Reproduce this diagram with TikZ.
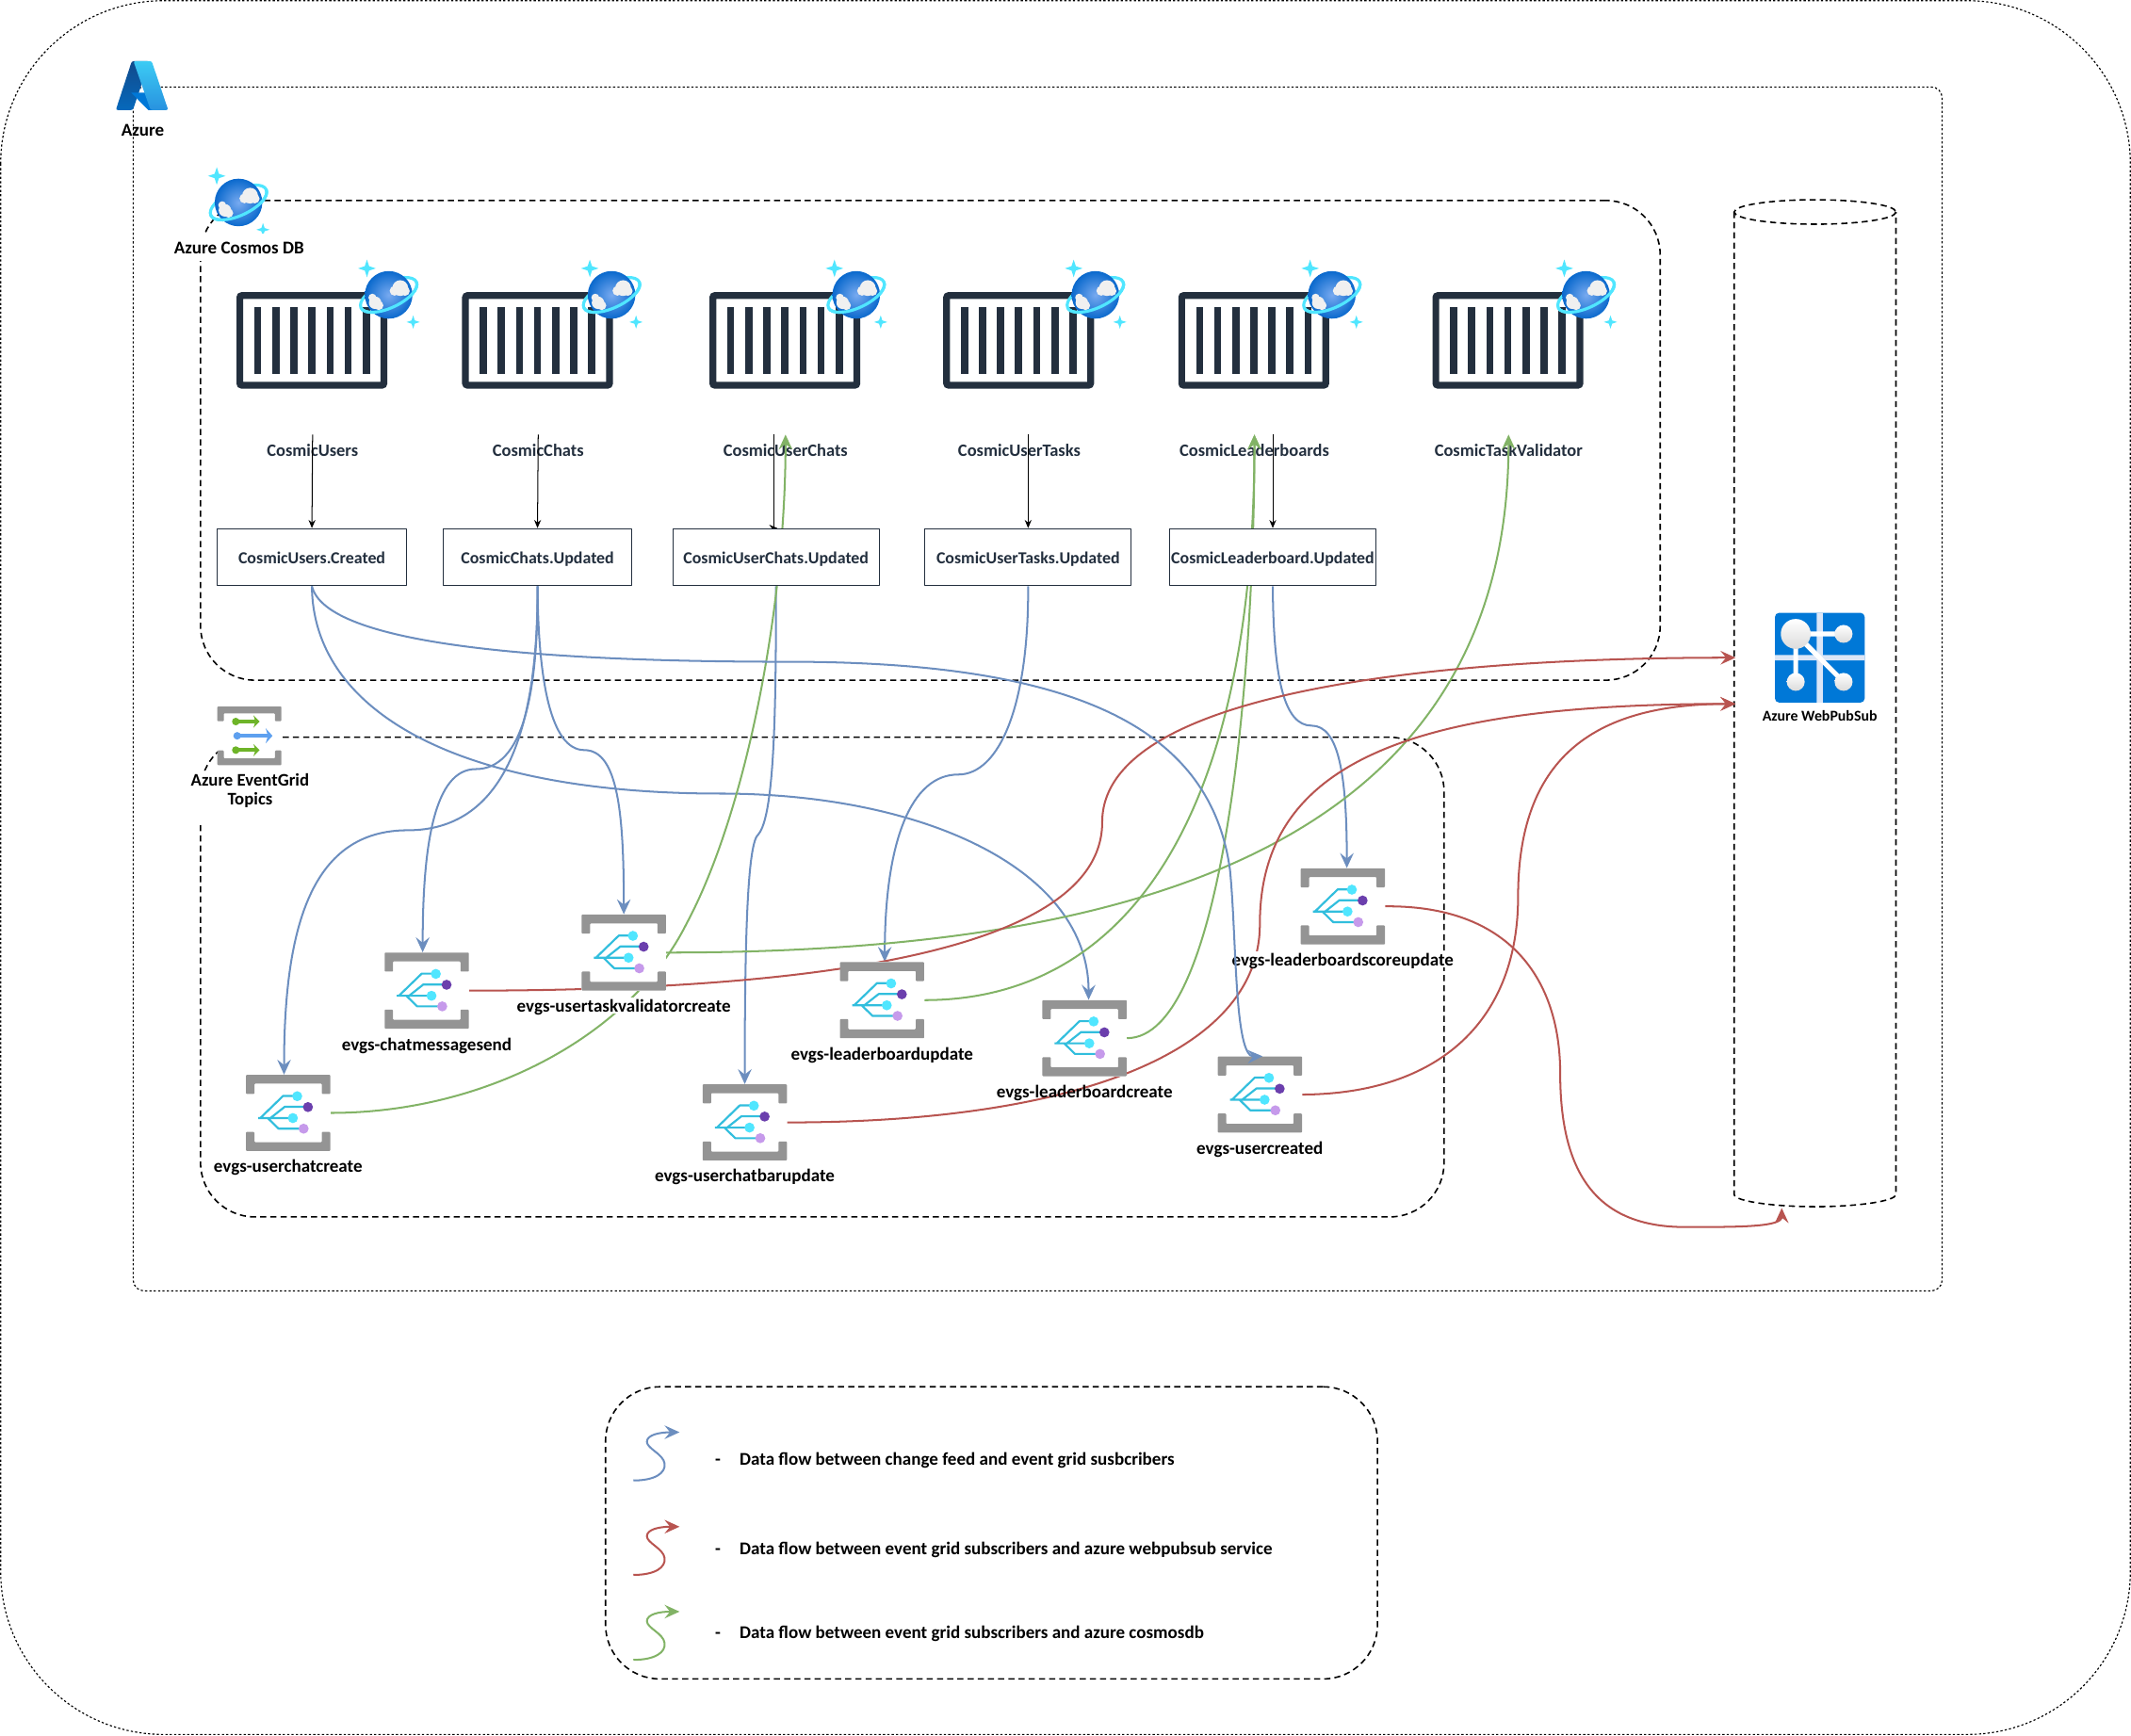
\documentclass[tikz,border=0pt]{standalone}
\usepackage{fontspec}
\setmainfont{Carlito}
\usetikzlibrary{positioning,arrows.meta}
\definecolor{flowblue}{HTML}{6C8EBF}
\definecolor{flowred}{HTML}{B85450}
\definecolor{flowgreen}{HTML}{82B366}
\definecolor{darkslate}{HTML}{232F3E}
\definecolor{bracketgray}{HTML}{949494}
\definecolor{branchcyan}{HTML}{32BEDD}
\definecolor{skycyan}{HTML}{50E6FF}
\definecolor{dotpurple}{HTML}{6B3FAD}
\definecolor{dotlilac}{HTML}{C69AEB}
\definecolor{planetlight}{HTML}{78AAF0}
\definecolor{planetdark}{HTML}{0A69CD}
\definecolor{azuredark}{HTML}{114A8B}
\definecolor{azuremid}{HTML}{0669BC}
\definecolor{azurelight}{HTML}{3CCBF4}
\definecolor{azurelow}{HTML}{2892DF}
\definecolor{azureblue}{HTML}{0078D7}
\definecolor{arrowgreen}{HTML}{6EB428}
\definecolor{arrowblue}{HTML}{5EA0EF}
\definecolor{gridlight}{HTML}{DBE6F7}
\pgfdeclarelayer{edges}
\pgfsetlayers{edges,main}
\newcommand{\sparklepath}{(0,-6.5)--(1.6,-1.6)--(6.5,0)--(1.6,1.6)--(0,6.5)--(-1.6,1.6)--(-6.5,0)--(-1.6,-1.6)--cycle}
\tikzset{
	frame/.style={draw,line width=1.1pt,dash pattern=on 4.5pt off 3pt,rounded corners=40pt},
	fineframe/.style={draw,line width=0.8pt,dash pattern=on 1.6pt off 1.6pt},
	txt/.style={font=\bfseries\fontsize{13.2}{15}\selectfont,inner sep=1pt,text height=10pt,text depth=0pt},
	slatetxt/.style={txt,font=\bfseries\fontsize{12.8}{15}\selectfont,text=darkslate,minimum height=22pt},
	feedbox/.style={draw=darkslate,line width=0.7pt,fill=white,minimum height=42pt,inner sep=0pt,txt,font=\bfseries\fontsize{12.4}{15}\selectfont,text=darkslate},
	containerbox/.style={draw=darkslate,line width=5pt,rounded corners=1.5pt,minimum width=106pt,minimum height=66pt,inner sep=0pt},
	evgsbox/.style={fill=white,minimum width=62pt,minimum height=56pt,inner sep=0pt},
	flow/.style={line width=1.4pt,-{Stealth[length=11pt,width=10pt,inset=4pt]}},
	feedarrow/.style={black,line width=0.7pt,-{Stealth[length=6pt,width=5pt]}},
	pics/brackets/.style={code={
		\fill[bracketgray,rounded corners=0.6pt] (-31,-28)--(31,-28)--(31,-14)--(24.8,-14)--(24.8,-21.5)--(-24.8,-21.5)--(-24.8,-14)--(-31,-14)--cycle;
		\fill[bracketgray,rounded corners=0.6pt] (-31,28)--(31,28)--(31,14)--(24.8,14)--(24.8,21.5)--(-24.8,21.5)--(-24.8,14)--(-31,14)--cycle;
	}},
	pics/evgsicon/.style={code={
		\pic {brackets};
		\draw[branchcyan,line width=1.5pt,line join=round]
			(-22,3.8)--(3.4,3.8)
			(-20.5,3.8)--(-3.7,-12.5)--(6.7,-12.5)
			(-13,3.8)--(-2.5,-4.5)--(14.6,-4.5)
			(-15,3.8)--(-7,11.6)--(11.4,11.6);
		\fill[skycyan] (6.7,-12.3) circle (3.7) (3.5,3.8) circle (3.7);
		\fill[dotpurple] (14.6,-4.3) circle (3.7);
		\fill[dotlilac] (11.4,11.6) circle (3.7);
	}},
	pics/cosmosicon/.style={code={
		\draw[skycyan,line width=2.2pt,rotate=25] (0,0) ellipse [x radius=22.5,y radius=9.5];
		\shade[inner color=planetlight,outer color=planetdark] (0,0) circle (17.5);
		\fill[white!94!black] (8.5,-5) circle (5.8) (4.3,-3) circle (3.6) (12,-2.8) circle (3.5);
		\fill[white!94!black] (-10,5.8) circle (4.6) (-12,2) circle (2.9) (-7.3,7.8) circle (3.4);
		\draw[skycyan,line width=2.2pt,rotate=25] (22.5,0) arc [start angle=0,end angle=180,x radius=22.5,y radius=9.5];
		\fill[skycyan,shift={(-16,-19.5)}] \sparklepath;
		\fill[skycyan,shift={(18,20)},scale=0.75] \sparklepath;
	}}
}
\begin{document}
\begin{tikzpicture}[x=1pt,y=-1pt,>=stealth,line join=round]
	\useasboundingbox (0,0) rectangle (1568,1276.9);
	\begin{pgfonlayer}{edges}
		\draw[fineframe,rounded corners=120pt] (0.5,0.5) rectangle (1567.5,1276.4);
		\draw[fineframe,rounded corners=8pt] (98,64) rectangle (1429,950);
		\node[frame,minimum width=1074pt,minimum height=353pt,anchor=north west,inner sep=0pt] (cosmosframe) at (147,147) {};
		\node[frame,minimum width=915pt,minimum height=353pt,anchor=north west,inner sep=0pt] (gridframe) at (147,542) {};
		\node[frame,minimum width=568pt,minimum height=215pt,anchor=north west,inner sep=0pt] (legendframe) at (445,1020) {};
		% cylinder
		\draw[frame,rounded corners=0pt] (1335.5,156) ellipse [x radius=59.5,y radius=9];
		\draw[frame,rounded corners=0pt] (1276,156)--(1276,879) .. controls (1276,884) and (1305,888) .. (1335.5,888) .. controls (1366,888) and (1395,884) .. (1395,879)--(1395,156);
		\coordinate (wpsTop) at (1277,484);
		\coordinate (wpsMid) at (1277,518);
		\coordinate (wpsBottom) at (1311,889);
		\foreach \name/\cx/\ix/\lx/\txt in {Users/229.5/286/230/CosmicUsers,Chats/395.5/450/396/CosmicChats,UserChats/577.5/630/578/CosmicUserChats,UserTasks/749.5/806/750/CosmicUserTasks,Leaders/922.5/980/923/CosmicLeaderboards,Validator/1109.5/1167/1110/CosmicTaskValidator}{
			\node[containerbox] (cont\name) at (\cx,250.5) {};
			\foreach \k in {0,...,6}
				\fill[darkslate] (\cx-42.5+\k*13.3,226) rectangle ++(5.3,49);
			\pic at (\ix,217) {cosmosicon};
			\node[slatetxt] (lbl\name) at (\lx,331) {\txt};
		}
	\end{pgfonlayer}

	\node[feedbox,minimum width=139pt] (boxUsers) at (229.5,410) {CosmicUsers.Created};
	\node[feedbox,minimum width=139pt] (boxChats) at (395.5,410) {CosmicChats.Updated};
	\node[feedbox,minimum width=152pt] (boxUserChats) at (571,410) {CosmicUserChats.Updated};
	\node[feedbox,minimum width=152pt] (boxUserTasks) at (756.5,410) {CosmicUserTasks.Updated};
	\node[feedbox,minimum width=152pt] (boxLeaders) at (936.5,410) {CosmicLeaderboard.Updated};

	% azure logo
	\begin{scope}[shift={(84.8,42.4)},x=0.406pt,y=-0.398pt]
		\shade[top color=azuredark,bottom color=azuremid,rounded corners=1.5pt] (30,6.5)--(62,6.5)--(32,97)--(1,97)--cycle;
		\fill[azureblue] (29,65)--(75,65)--(86,97)--(60,97)--cycle;
		\shade[top color=azurelight,bottom color=azurelow,rounded corners=1.5pt] (33,6.5)--(66,6.5)--(96,97)--(64,97)--cycle;
	\end{scope}
	\node[txt] (azurelbl) at (105,95) {Azure};

	% service icons
	\pic at (175.5,149) {cosmosicon};
	\node[txt,fill=white,inner ysep=5pt] (cosmoslbl) at (176,182) {Azure Cosmos DB};
	\node[fill=white,minimum width=47pt,minimum height=43pt,inner sep=0pt] (topicsicon) at (183.5,541.5) {};
	\begin{scope}[shift={(183.5,541.5)},yscale=0.77,xscale=0.76]
		\pic[transform shape] {brackets};
	\end{scope}
	\begin{scope}[shift={(183.5,541.5)}]
		\foreach \gy in {-10.5,10.5}{
			\fill[arrowgreen] (-10,\gy) circle (2.8);
			\draw[arrowgreen,line width=2.8pt,-{Stealth[length=4.5pt,width=9pt]}] (-10,\gy)--(7.5,\gy);
		}
		\fill[arrowblue] (-9,0) circle (2.8);
		\draw[arrowblue,line width=2.8pt,-{Stealth[length=5pt,width=11pt]}] (-9,0)--(17,0);
	\end{scope}
	\node[fill=white,align=center,font=\bfseries\fontsize{13}{14}\selectfont,inner sep=1pt] (topicslbl) at (184,588) {Azure EventGrid\\Topics\\~};

	\foreach \name/\px/\py/\lblfill/\txt in {ChatCreate/212/819/white/evgs-userchatcreate,ChatSend/314/729/white/evgs-chatmessagesend,TaskValidator/459/701/white/evgs-usertaskvalidatorcreate,BoardUpdate/649/736/white/evgs-leaderboardupdate,BarUpdate/548/826/white/evgs-userchatbarupdate,BoardCreate/798/764/none/evgs-leaderboardcreate,UserCreated/927/805.5/white/evgs-usercreated,ScoreUpdate/988/667/white/evgs-leaderboardscoreupdate}{
		\node[evgsbox] (evgs\name) at (\px,\py) {};
		\pic at (\px,\py) {evgsicon};
		\node[txt,fill=\lblfill,below=4.5pt of evgs\name] (lbl\name) {\txt};
	}

	% webpubsub
	\begin{scope}[shift={(1306,451)}]
		\fill[azureblue,rounded corners=3pt] (0,0) rectangle (66,66);
		\fill[gridlight] (30.8,0) rectangle (35.2,66) (0,31) rectangle (66,35);
		\draw[white,line width=3.6pt] (15.3,15.5)--(50.5,15.5) (15.3,15.5)--(15.3,50.8) (15.3,15.5)--(50.5,50.8);
		\foreach \wx/\wy/\wr in {15.3/15.5/11,50.5/15.5/6.6,15.3/50.8/6.6,50.5/50.8/6.6}
			\shade[top color=white,bottom color=black!14] (\wx,\wy) circle (\wr);
	\end{scope}
	\node[minimum width=66pt,minimum height=66pt,inner sep=0pt] (wpsicon) at (1339,484) {};
	\node[txt,font=\bfseries\fontsize{11}{13}\selectfont,below=5pt of wpsicon,text height=7.5pt,text depth=2pt] (wpslbl) {Azure WebPubSub};

	\begin{pgfonlayer}{edges}
		% change feed
		\draw[feedarrow] (lblUsers.north)--(boxUsers.north);
		\draw[feedarrow] (lblChats.north)--(boxChats.north);
		\draw[feedarrow] ([xshift=-1.5pt]lblUserChats.north -| boxUserChats.north)--([xshift=-1.5pt]boxUserChats.north)--([xshift=1pt]boxUserChats.north);
		\draw[feedarrow] (lblUserTasks.north -| boxUserTasks.north)--(boxUserTasks.north);
		\draw[feedarrow] (lblLeaders.north -| boxLeaders.north)--(boxLeaders.north);

		% blue
		\draw[flow,flowblue] (boxUsers.south) .. controls (230,520) and (330,584) .. (530,584) .. controls (680,584) and (801,640) .. ([xshift=3pt]evgsBoardCreate.north);
		\draw[flow,flowblue] (boxChats.south) .. controls (396,510) and (385,566) .. (350,566) .. controls (320,566) and (311,620) .. ([xshift=-3pt]evgsChatSend.north);
		\draw[flow,flowblue] (boxChats.south) .. controls (396,540) and (370,611) .. (300,611) .. controls (230,611) and (209,680) .. ([xshift=-3pt]evgsChatCreate.north);
		\draw[flow,flowblue] (boxChats.south) .. controls (396,500) and (405,552) .. (430,552) .. controls (455,552) and (459,600) .. (evgsTaskValidator.north);
		\draw[flow,flowblue] (boxUserChats.south) .. controls (571,520) and (570,600) .. (558,614) .. controls (550,620) and (548,690) .. (evgsBarUpdate.north);
		\draw[flow,flowblue] (boxUserTasks.south) .. controls (757,520) and (735,570) .. (705,570) .. controls (670,570) and (651,620) .. ([xshift=2pt]evgsBoardUpdate.north);
		\draw[flow,flowblue] (boxLeaders.south) .. controls (937,500) and (945,534) .. (965,534) .. controls (985,534) and (991,570) .. ([xshift=3pt]evgsScoreUpdate.north);

		% green
		\draw[flow,flowgreen] (evgsChatCreate.east) .. controls (360,819) and (465,760) .. (505,680) .. controls (548,600) and (578,450) .. (lblUserChats.north);
		\draw[flow,flowgreen] (evgsTaskValidator.east) .. controls (800,701) and (1110,640) .. (lblValidator.north);
		\draw[flow,flowgreen] (evgsBoardUpdate.east) .. controls (830,736) and (923,600) .. (lblLeaders.north);
		\draw[flow,flowgreen] (evgsBoardCreate.east) .. controls (900,764) and (923,500) .. (lblLeaders.north);

		% red
		\draw[flow,flowred] (evgsChatSend.east) .. controls (600,729) and (811,700) .. (811,605) .. controls (811,510) and (1050,484) .. (wpsTop);
		\draw[flow,flowred] (evgsBarUpdate.east) .. controls (790,826) and (927,775) .. (927,680) .. controls (927,560) and (1040,518) .. (wpsMid);
		\draw[flow,flowred] (evgsUserCreated.east) .. controls (1060,805) and (1117,750) .. (1117,660) .. controls (1117,560) and (1170,518) .. (wpsMid);
		\draw[flow,flowred] (evgsScoreUpdate.east) .. controls (1110,666) and (1148,720) .. (1148,790) .. controls (1148,870) and (1180,903) .. (1240,903) .. controls (1280,903) and (1311,903) .. (wpsBottom);
	\end{pgfonlayer}
	% this one runs over the icon
	\draw[flow,flowblue] (boxUsers.south) .. controls (240,475) and (400,487) .. (580,487) .. controls (780,487) and (890,530) .. (905,640) .. controls (910,690) and (908,778) .. ([xshift=2pt]evgsUserCreated.north);

	% legend
	\foreach \lcolor/\ly/\ty/\ltxt in {flowblue/0/1073/Data flow between change feed and event grid susbcribers,flowred/69.5/1139/Data flow between event grid subscribers and azure webpubsub service,flowgreen/132/1201/Data flow between event grid subscribers and azure cosmosdb}{
		\draw[flow,\lcolor,shift={(0,\ly)}] (466,1089.5) .. controls (482,1089.5) and (490,1084) .. (489,1077) .. controls (488,1070) and (476,1066) .. (476,1061) .. controls (476,1056) and (485,1054) .. (500,1054);
		\node[txt,anchor=west] at (525,\ty) {-\hspace{14pt}\ltxt};
	}
\end{tikzpicture}
\end{document}
